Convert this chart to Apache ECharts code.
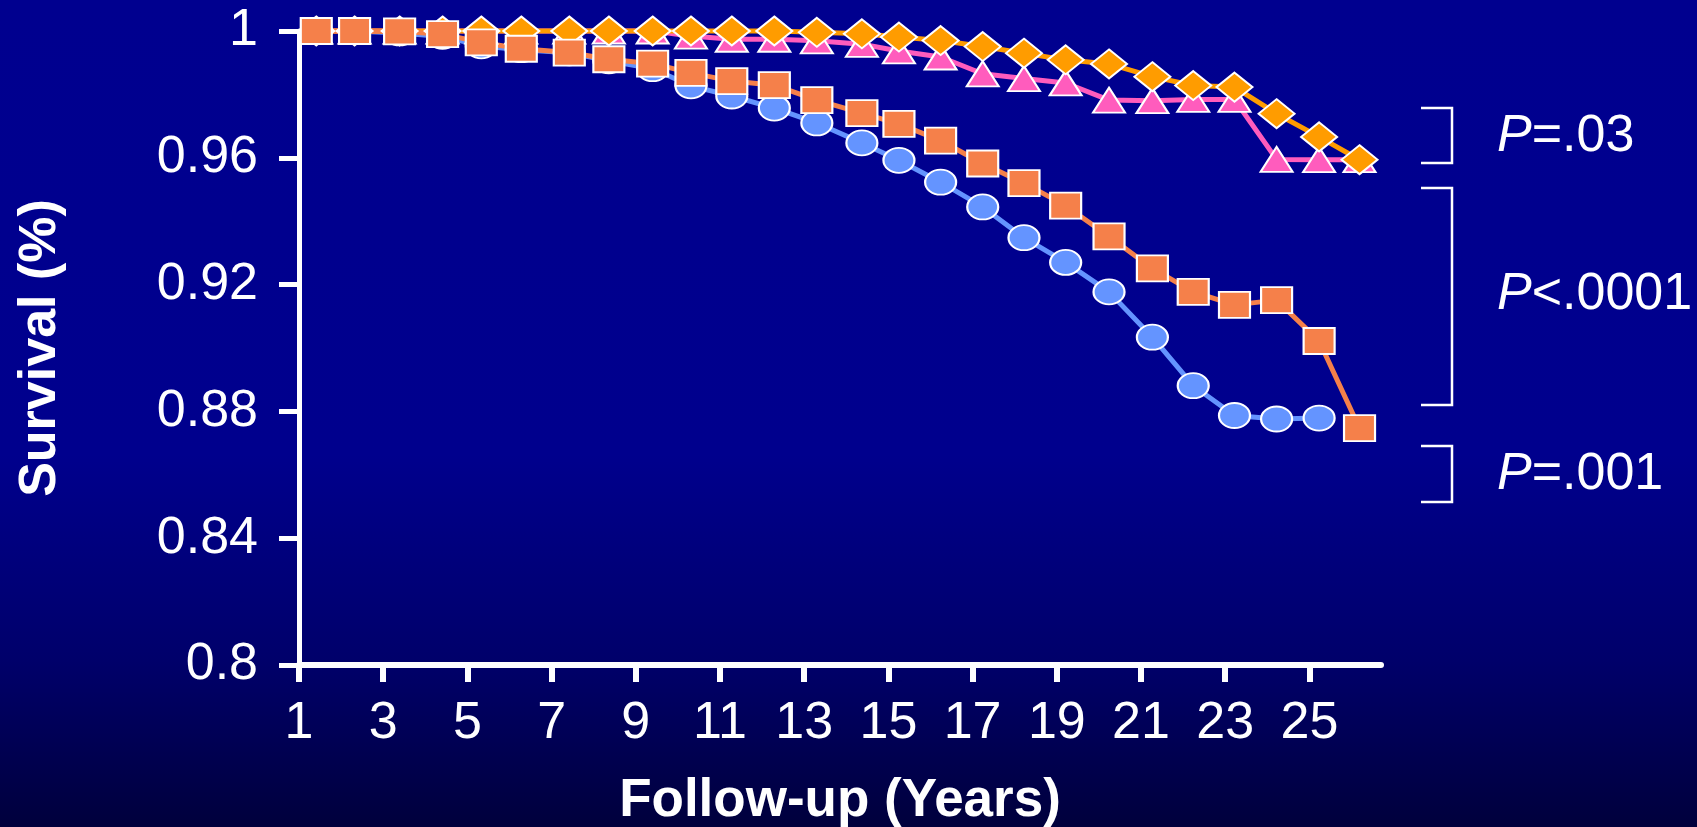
<!DOCTYPE html>
<html>
<head>
<meta charset="utf-8">
<title>Survival by group</title>
<script src="https://cdn.jsdelivr.net/npm/echarts@6/dist/echarts.min.js"></script>
<style>
  html, body { margin: 0; padding: 0; }
  #chart {
    width: 1697px; height: 827px;
    background: linear-gradient(180deg, #00008f 0%, #00008d 55%, #00006a 80%, #00003c 100%);
  }
</style>
</head>
<body>
<div id="chart"></div>
<script>
// Follow-up time (years) of each plotted point
const years = [1.41, 2.32, 3.39, 4.41, 5.33, 6.28, 7.42, 8.36, 9.40, 10.31,
               11.28, 12.29, 13.30, 14.37, 15.25, 16.24, 17.24, 18.22, 19.21, 20.24,
               21.27, 22.24, 23.22, 24.22, 25.23, 26.19];

// Cumulative survival per group
const survivalCircle = [1.0, 1.0, 0.9994, 0.9983, 0.9953, 0.9941, 0.9931, 0.9906, 0.9881, 0.9827,
                        0.9795, 0.9757, 0.9710, 0.9647, 0.9592, 0.9523, 0.9445, 0.9348, 0.9270, 0.9177,
                        0.9034, 0.8881, 0.8787, 0.8776, 0.8779];
const survivalSquare = [1.0, 1.0, 0.9999, 0.9990, 0.9964, 0.9944, 0.9932, 0.9911, 0.9897, 0.9868,
                        0.9842, 0.9829, 0.9782, 0.9741, 0.9707, 0.9654, 0.9582, 0.9520, 0.9449, 0.9352,
                        0.9251, 0.9177, 0.9136, 0.9151, 0.9022, 0.8747];
const survivalTriangle = [1.0, 1.0, 1.0, 1.0, 1.0, 1.0, 1.0, 1.0, 1.0, 0.9984,
                          0.9974, 0.9974, 0.9969, 0.9958, 0.9937, 0.9918, 0.9865, 0.9850, 0.9836, 0.9782,
                          0.9780, 0.9784, 0.9784, 0.9595, 0.9594, 0.9594];
const survivalDiamond = [1.0, 1.0, 1.0, 1.0, 1.0, 1.0, 1.0, 1.0, 1.0, 1.0,
                         1.0, 1.0, 0.9996, 0.9991, 0.9981, 0.9970, 0.9951, 0.9930, 0.9909, 0.9896,
                         0.9856, 0.9828, 0.9823, 0.9739, 0.9666, 0.9594];

// Axis tick labels
const xTickLabels = [1, 3, 5, 7, 9, 11, 13, 15, 17, 19, 21, 23, 25];

// Pairwise comparison results shown at the right
const pValues = [
  { op: '=', value: '.03' },
  { op: '<', value: '.0001' },
  { op: '=', value: '.001' }
];

const FONT = '"Liberation Sans", Arial, sans-serif';
const chart = echarts.init(document.getElementById('chart'), null, { renderer: 'canvas' });

function pairs(values) {
  return values.map((v, i) => [years[i], v]);
}

function lineSeries(values, symbol, size, color) {
  return {
    type: 'line',
    data: pairs(values),
    symbol: symbol,
    symbolSize: size,
    showAllSymbol: true,
    clip: false,
    lineStyle: { color: color, width: 5 },
    itemStyle: { color: color, borderColor: '#ffffff', borderWidth: 2 },
    emphasis: { disabled: true },
    animation: false
  };
}

// Brackets linking the compared curves, with their P values
const brackets = [
  { top: 108, bottom: 163, labelY: 137 },
  { top: 188, bottom: 405, labelY: 295 },
  { top: 446, bottom: 502, labelY: 475 }
];
const graphics = [];
brackets.forEach((b, i) => {
  graphics.push({
    type: 'polyline',
    silent: true,
    shape: { points: [[1421, b.top], [1452, b.top], [1452, b.bottom], [1421, b.bottom]] },
    style: { stroke: '#ffffff', lineWidth: 2.5, fill: null }
  });
  graphics.push({
    type: 'text',
    silent: true,
    x: 1497,
    y: b.labelY,
    style: {
      text: '{i|P}' + pValues[i].op + pValues[i].value,
      fill: '#ffffff',
      fontSize: 52,
      fontFamily: FONT,
      verticalAlign: 'middle',
      rich: { i: { fontStyle: 'italic', fontSize: 52, fontFamily: FONT, fill: '#ffffff' } }
    }
  });
});

chart.setOption({
  backgroundColor: 'transparent',
  animation: false,
  grid: { left: 299, right: 316, top: 31, bottom: 162, outerBoundsMode: 'none', containLabel: false },
  xAxis: {
    type: 'value',
    min: 1,
    max: 26.7,
    name: 'Follow-up (Years)',
    nameLocation: 'middle',
    nameGap: 110,
    nameTextStyle: { color: '#ffffff', fontSize: 53, fontWeight: 'bold', fontFamily: FONT },
    axisLine: { show: true, onZero: false, lineStyle: { color: '#ffffff', width: 6 } },
    axisTick: { show: true, customValues: xTickLabels, length: 17, lineStyle: { color: '#ffffff', width: 6 } },
    axisLabel: { show: true, customValues: xTickLabels, color: '#ffffff', fontSize: 52, fontFamily: FONT, margin: 33 },
    splitLine: { show: false }
  },
  yAxis: {
    type: 'value',
    min: 0.8,
    max: 1,
    interval: 0.04,
    name: 'Survival (%)',
    nameLocation: 'middle',
    nameGap: 232,
    nameTextStyle: { color: '#ffffff', fontSize: 52, fontWeight: 'bold', fontFamily: FONT },
    axisLine: { show: true, onZero: false, lineStyle: { color: '#ffffff', width: 5 } },
    axisTick: { show: true, length: 20, lineStyle: { color: '#ffffff', width: 5 } },
    axisLabel: {
      color: '#ffffff', fontSize: 52, fontFamily: FONT, margin: 41,
      formatter: v => String(+v.toFixed(2))
    },
    splitLine: { show: false }
  },
  series: [
    lineSeries(survivalCircle, 'circle', [31, 25], '#6494ff'),
    lineSeries(survivalTriangle, 'triangle', [32, 25], '#ff5cbd'),
    lineSeries(survivalDiamond, 'diamond', [36, 29], '#ff9c00'),
    lineSeries(survivalSquare, 'rect', [31, 26], '#f5804a')
  ],
  graphic: graphics
});
</script>
</body>
</html>
